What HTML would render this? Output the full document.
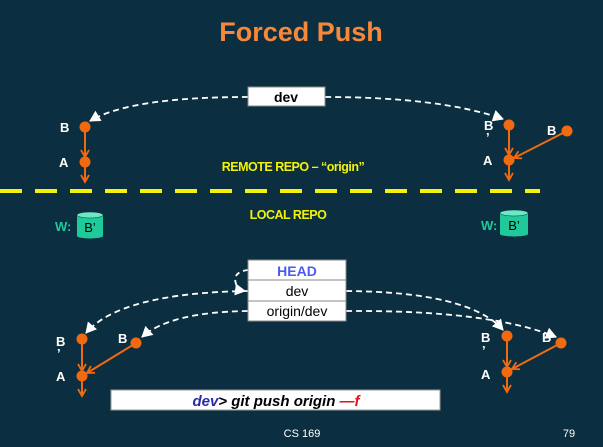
<!DOCTYPE html>
<html><head><meta charset="utf-8"><style>
html,body{margin:0;padding:0;background:#0b2f40;}
svg{display:block;font-family:"Liberation Sans",Arial,sans-serif;}
</style></head><body>
<svg width="603" height="447" viewBox="0 0 603 447" xmlns="http://www.w3.org/2000/svg">
<defs>
<marker id="oa" markerWidth="10" markerHeight="10" refX="8" refY="5" orient="auto" markerUnits="userSpaceOnUse"><path d="M1,1 L8,5 L1,9" fill="none" stroke="#f26a10" stroke-width="1.8"/></marker>
<marker id="wa" markerWidth="12" markerHeight="12" refX="10" refY="6" orient="auto" markerUnits="userSpaceOnUse"><path d="M0,0 L11,6 L0,12 Z" fill="#fff"/></marker>
</defs>
<rect width="603" height="447" fill="#0b2f40"/>
<text x="301" y="41" text-anchor="middle" font-size="27" font-weight="bold" fill="#f7883a">Forced Push</text>

<!-- top dev -->
<path d="M248,97 Q130,97 90,121" fill="none" stroke="#fff" stroke-width="1.8" stroke-dasharray="6,4" marker-end="url(#wa)"/>
<path d="M325,97 Q440,97 503,119" fill="none" stroke="#fff" stroke-width="1.8" stroke-dasharray="6,4" marker-end="url(#wa)"/>
<rect x="248" y="87" width="77" height="19" fill="#fff" stroke="#888"/>
<text x="286" y="102" text-anchor="middle" font-size="14" font-weight="bold" fill="#000">dev</text>

<g stroke="#f26a10" stroke-width="2" fill="none">
<line x1="85" y1="127" x2="85" y2="157" marker-end="url(#oa)"/>
<line x1="85" y1="162" x2="85" y2="182" marker-end="url(#oa)"/>
<line x1="509" y1="125" x2="509" y2="155" marker-end="url(#oa)"/>
<line x1="509" y1="160" x2="509" y2="180" marker-end="url(#oa)"/>
<line x1="567" y1="131" x2="514" y2="158" marker-end="url(#oa)"/>
<line x1="82" y1="339" x2="82" y2="371" marker-end="url(#oa)"/>
<line x1="82" y1="376" x2="82" y2="396" marker-end="url(#oa)"/>
<line x1="136" y1="343" x2="87" y2="373" marker-end="url(#oa)"/>
<line x1="507" y1="336" x2="507" y2="367" marker-end="url(#oa)"/>
<line x1="507" y1="372" x2="507" y2="392" marker-end="url(#oa)"/>
<line x1="561" y1="343" x2="512" y2="369" marker-end="url(#oa)"/>
</g>
<g fill="#f26a10">
<circle cx="85" cy="127" r="5.5"/><circle cx="85" cy="162" r="5.5"/>
<circle cx="509" cy="125" r="5.5"/><circle cx="509" cy="160" r="5.5"/><circle cx="567" cy="131" r="5.5"/>
<circle cx="82" cy="339" r="5.5"/><circle cx="82" cy="376" r="5.5"/><circle cx="136" cy="343" r="5.5"/>
<circle cx="507" cy="336" r="5.5"/><circle cx="507" cy="372" r="5.5"/><circle cx="561" cy="343" r="5.5"/>
</g>
<g fill="#fff" font-size="13" font-weight="bold">
<text x="60" y="132">B</text><text x="59" y="167">A</text>
<text x="484" y="130">B</text><text x="486" y="142">’</text><text x="483" y="165">A</text><text x="547" y="135">B</text>
<text x="56" y="346">B</text><text x="57" y="358">’</text><text x="56" y="381">A</text><text x="118" y="343">B</text>
<text x="481" y="342">B</text><text x="482" y="355">’</text><text x="481" y="379">A</text><text x="542" y="342">B</text>
</g>

<text x="293" y="171" text-anchor="middle" font-size="12.5" font-weight="bold" fill="#f2f20a" letter-spacing="-0.5">REMOTE REPO – “origin”</text>
<line x1="0" y1="191" x2="540" y2="191" stroke="#f2f20a" stroke-width="4" stroke-dasharray="22,13"/>
<text x="288" y="219" text-anchor="middle" font-size="12.5" font-weight="bold" fill="#f2f20a" letter-spacing="-0.5">LOCAL REPO</text>

<!-- cylinders -->
<g>
<text x="55" y="231" font-size="13" font-weight="bold" fill="#1fc99a">W:</text>
<rect x="77" y="215" width="26" height="21" fill="#1fc99a"/>
<ellipse cx="90" cy="236" rx="13" ry="2.5" fill="#1fc99a"/>
<ellipse cx="90" cy="215" rx="13" ry="3" fill="#6fe6c4" stroke="#0b2f40" stroke-width="0.5"/>
<text x="90" y="232" text-anchor="middle" font-size="13" fill="#000">B’</text>
<text x="481" y="230" font-size="13" font-weight="bold" fill="#1fc99a">W:</text>
<rect x="500" y="213" width="28" height="21" fill="#1fc99a"/>
<ellipse cx="514" cy="234" rx="14" ry="2.5" fill="#1fc99a"/>
<ellipse cx="514" cy="213" rx="14" ry="3" fill="#6fe6c4" stroke="#0b2f40" stroke-width="0.5"/>
<text x="514" y="230" text-anchor="middle" font-size="13" fill="#000">B’</text>
</g>

<!-- bottom labels -->
<path d="M248,270 Q232,272 236,284 Q238,290 245,291" fill="none" stroke="#fff" stroke-width="1.8" stroke-dasharray="5,4" marker-end="url(#wa)"/>
<path d="M248,291 Q120,293 86,333" fill="none" stroke="#fff" stroke-width="1.8" stroke-dasharray="6,4" marker-end="url(#wa)"/>
<path d="M248,311 Q170,312 142,337" fill="none" stroke="#fff" stroke-width="1.8" stroke-dasharray="6,4" marker-end="url(#wa)"/>
<path d="M346,291 Q470,292 503,330" fill="none" stroke="#fff" stroke-width="1.8" stroke-dasharray="6,4" marker-end="url(#wa)"/>
<path d="M346,311 Q490,310 556,337" fill="none" stroke="#fff" stroke-width="1.8" stroke-dasharray="6,4" marker-end="url(#wa)"/>
<rect x="248" y="260" width="98" height="20" fill="#fff" stroke="#888"/>
<rect x="248" y="280" width="98" height="21" fill="#fff" stroke="#888"/>
<rect x="248" y="301" width="98" height="20" fill="#fff" stroke="#888"/>
<text x="297" y="276" text-anchor="middle" font-size="14" font-weight="bold" fill="#4a5cf0">HEAD</text>
<text x="297" y="296" text-anchor="middle" font-size="14" fill="#000">dev</text>
<text x="297" y="316" text-anchor="middle" font-size="14" fill="#000">origin/dev</text>

<rect x="111" y="390" width="329" height="20" fill="#fff" stroke="#999"/>
<text x="276" y="406" text-anchor="middle" font-size="15" font-weight="bold" font-style="italic"><tspan fill="#2a2aa8">dev</tspan><tspan fill="#000">&gt; git push origin </tspan><tspan fill="#e8101a">—f</tspan></text>

<text x="302" y="437" text-anchor="middle" font-size="11" fill="#fff">CS 169</text>
<text x="569" y="437" text-anchor="middle" font-size="11" fill="#fff">79</text>
</svg>
</body></html>
